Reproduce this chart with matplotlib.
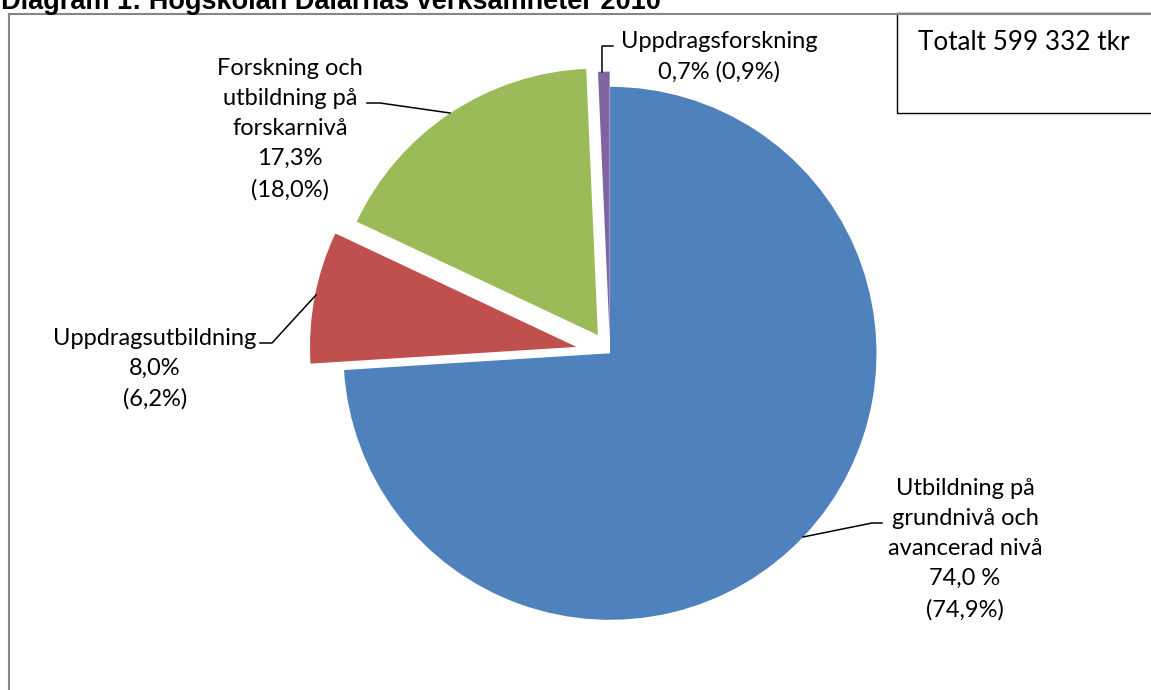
import matplotlib
matplotlib.use("Agg")
import matplotlib.pyplot as plt
from matplotlib.patches import Rectangle
from matplotlib.lines import Line2D

# ---- data ----
categories = ["Utbildning på\ngrundnivå och\navancerad nivå",
              "Uppdragsutbildning",
              "Forskning och\nutbildning på\nforskarnivå",
              "Uppdragsforskning"]
share_2010 = [74.0, 8.0, 17.3, 0.7]
share_prev = [74.9, 6.2, 18.0, 0.9]
pct_text = ["74,0 %", "8,0%", "17,3%", "0,7%"]
prev_text = ["(74,9%)", "(6,2%)", "(18,0%)", "(0,9%)"]
explode_frac = [0.0, 0.128, 0.082, 0.057]
colors = ["#4F81BD", "#C0504D", "#9BBB59", "#8064A2"]
title = "Diagram 1: Högskolan Dalarnas verksamheter 2010"
total_text = "Totalt 599 332 tkr"

W, H = 1151, 690
fig = plt.figure(figsize=(W / 100, H / 100), dpi=100)
ax = fig.add_axes([0, 0, 1, 1])

def Y(y):
    return H - y

# pie
cx, cy, r = 610, 353.3, 266.5
ax.pie(share_2010, colors=colors, explode=[e * r for e in explode_frac],
       startangle=90, counterclock=False, center=(cx, Y(cy)), radius=r,
       wedgeprops=dict(linewidth=0), frame=True)
ax.set_xlim(0, W)
ax.set_ylim(0, H)
ax.axis("off")

# chart frame (gray), continuing past the right and bottom edges
ax.add_line(Line2D([9.5, 9.5, W + 5], [Y(H + 5), Y(13.5), Y(13.5)],
                   color="#868686", lw=1.5, solid_joinstyle="miter"))

font = dict(family=["Lato", "DejaVu Sans"], size=17, color="black")
ls = 1.54

# labels
lab_blue = f"{categories[0]}\n{pct_text[0]}\n{prev_text[0]}"
lab_red = f"{categories[1]}\n{pct_text[1]}\n{prev_text[1]}"
lab_green = f"{categories[2]}\n{pct_text[2]}\n{prev_text[2]}"
lab_purple = f"{categories[3]}\n{pct_text[3]} {prev_text[3]}"

ax.text(965, Y(549), lab_blue, ha="center", va="center", multialignment="center",
        linespacing=ls, **font)
ax.text(155, Y(369), lab_red, ha="center", va="center", multialignment="center",
        linespacing=ls, **font)
ax.text(290, Y(129), lab_green, ha="center", va="center", multialignment="center",
        linespacing=ls, **font)
ax.text(719, Y(57), lab_purple, ha="center", va="center", multialignment="center",
        linespacing=ls, **font)

# leader lines
lk = dict(color="black", lw=1.1)
ax.add_line(Line2D([882, 872, 803], [Y(523), Y(523), Y(537)], **lk))
ax.add_line(Line2D([260, 272, 316], [Y(343), Y(343), Y(295)], **lk))
ax.add_line(Line2D([367, 380, 450], [Y(103), Y(103), Y(113)], **lk))
ax.add_line(Line2D([602, 602, 613], [Y(72), Y(46), Y(46)], **lk))

# total box
ax.add_patch(Rectangle((897, Y(112.7)), 300, 100, fill=False, edgecolor="black",
                       lw=1.0, clip_on=False))
ax.text(918, Y(43), total_text, ha="left", va="center",
        family=["Lato", "DejaVu Sans"], size=18.8, color="black")

# title (partly cut off at the top, as in the reference)
ax.text(1, Y(9), title, ha="left", va="baseline",
        family=["Liberation Sans", "DejaVu Sans"], weight="bold", size=19.5)

fig.savefig("out.png", dpi=100)
